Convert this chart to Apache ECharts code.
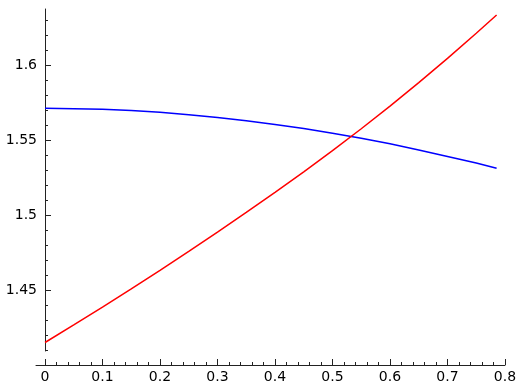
<!DOCTYPE html>
<html><head><meta charset="utf-8">
<script src="https://cdn.jsdelivr.net/npm/echarts@6/dist/echarts.min.js"></script>
<style>html,body{margin:0;padding:0;background:#fff}#c{width:528px;height:389px}</style>
</head><body><div id="c"></div>
<script>
// ---- data ----
const xValues    = [0, 0.05, 0.1, 0.15, 0.2, 0.25, 0.3, 0.35, 0.4, 0.45, 0.5, 0.55, 0.6, 0.65, 0.7, 0.75, 0.7854];
const blueValues = [1.5711, 1.5709, 1.5705, 1.5697, 1.5685, 1.5669, 1.5650, 1.5628, 1.5604, 1.5576, 1.5545, 1.5512, 1.5475, 1.5434, 1.5390, 1.5346, 1.5312];
const redValues  = [1.4150, 1.4267, 1.4386, 1.4507, 1.4631, 1.4757, 1.4886, 1.5017, 1.5151, 1.5288, 1.5429, 1.5575, 1.5726, 1.5882, 1.6044, 1.6212, 1.6333];
const xTickValues = [0, 0.1, 0.2, 0.3, 0.4, 0.5, 0.6, 0.7, 0.8];
const xTickLabels = ['0', '0.1', '0.2', '0.3', '0.4', '0.5', '0.6', '0.7', '0.8'];
const yTickValues = [1.45, 1.5, 1.55, 1.6];
const yTickLabels = ['1.45', '1.5', '1.55', '1.6'];
const xMinorStep = 0.02;
const yMinorStep = 0.01;

// minor tick positions (axis decoration)
const xMinorTicks = [];
for (let i = 1; i < 40; i++) { if (i % 5) xMinorTicks.push(+(i * xMinorStep).toFixed(4)); }
const yMinorTicks = [];
for (let i = 141; i <= 163; i++) { if (i % 5) yMinorTicks.push(+(i * yMinorStep).toFixed(4)); }

const blueData = xValues.map((x, i) => [x, blueValues[i]]);
const redData  = xValues.map((x, i) => [x, redValues[i]]);

const font = 'DejaVu Sans';
const axisColor = '#222';
const Y_MIN = 1.40933, Y_MAX = 1.63733;
const X_MIN_AXIS = -0.01565, X_MAX = 0.8;

const chart = echarts.init(document.getElementById('c'), null, {renderer: 'canvas'});
chart.setOption({
  animation: false,
  backgroundColor: '#fff',
  grid: [
    {left: 45, right: 23, top: 9, bottom: 38},
    {left: 36, right: 23, top: 9, bottom: 24}
  ],
  xAxis: [
    {gridIndex: 0, type: 'value', min: 0, max: X_MAX, show: false},
    {gridIndex: 1, type: 'value', min: X_MIN_AXIS, max: X_MAX, position: 'bottom',
      axisLine: {show: true, onZero: false, lineStyle: {color: axisColor, width: 1}},
      axisTick: {show: true, inside: true, length: 6, customValues: xTickValues, lineStyle: {color: axisColor, width: 1}},
      axisLabel: {show: true, margin: 5, customValues: xTickValues,
        formatter: v => { const i = xTickValues.findIndex(t => Math.abs(t - v) < 1e-9); return i >= 0 ? xTickLabels[i] : ''; },
        fontFamily: font, fontSize: 14, color: '#000'},
      splitLine: {show: false}},
    {gridIndex: 1, type: 'value', min: X_MIN_AXIS, max: X_MAX, position: 'bottom',
      axisLine: {show: false, onZero: false},
      axisTick: {show: true, inside: true, length: 3, customValues: xMinorTicks, lineStyle: {color: axisColor, width: 1}},
      axisLabel: {show: false}, splitLine: {show: false}}
  ],
  yAxis: [
    {gridIndex: 0, type: 'value', min: Y_MIN, max: Y_MAX, position: 'left',
      axisLine: {show: true, onZero: false, lineStyle: {color: axisColor, width: 1}},
      axisTick: {show: true, inside: true, length: 6, customValues: yTickValues, lineStyle: {color: axisColor, width: 1}},
      axisLabel: {show: true, margin: 8, customValues: yTickValues,
        formatter: v => { const i = yTickValues.findIndex(t => Math.abs(t - v) < 1e-9); return i >= 0 ? yTickLabels[i] : ''; },
        fontFamily: font, fontSize: 14, color: '#000'},
      splitLine: {show: false}},
    {gridIndex: 0, type: 'value', min: Y_MIN, max: Y_MAX, position: 'left',
      axisLine: {show: false, onZero: false},
      axisTick: {show: true, inside: true, length: 3, customValues: yMinorTicks, lineStyle: {color: axisColor, width: 1}},
      axisLabel: {show: false}, splitLine: {show: false}},
    {gridIndex: 1, type: 'value', min: 0, max: 1, show: false}
  ],
  series: [
    {type: 'line', name: 'blue', xAxisIndex: 0, yAxisIndex: 0, data: blueData, showSymbol: false, smooth: false,
      lineStyle: {color: '#0000ff', width: 1.5}, itemStyle: {color: '#0000ff'}},
    {type: 'line', name: 'red', xAxisIndex: 0, yAxisIndex: 0, data: redData, showSymbol: false, smooth: false,
      lineStyle: {color: '#ff0000', width: 1.5}, itemStyle: {color: '#ff0000'}}
  ]
});
</script></body></html>
